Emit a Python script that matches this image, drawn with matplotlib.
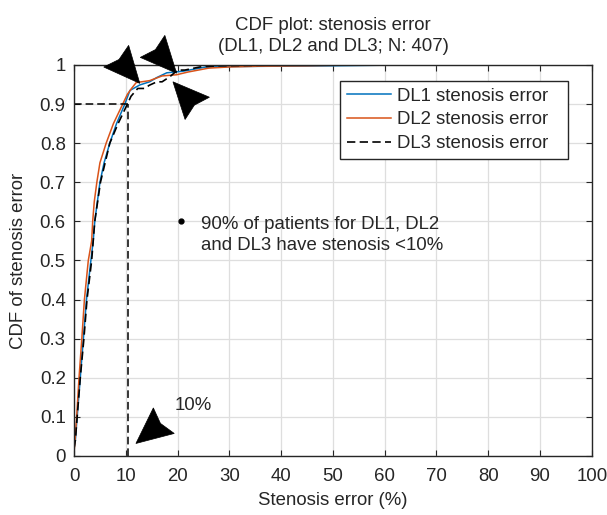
import numpy as np
import matplotlib
matplotlib.use("Agg")
import matplotlib.pyplot as plt
from matplotlib.patches import Polygon
from matplotlib.transforms import IdentityTransform

plt.rcParams['font.family'] = ['Liberation Sans', 'DejaVu Sans']
plt.rcParams['font.size'] = 13.4

# CDF curves (stenosis error %, cumulative fraction)
dl1_x = [0, 0.25, 0.6, 1.2, 1.8, 2.4, 3.25, 3.7, 4.0, 4.5, 5.0, 5.8, 6.9, 8.2, 9.8, 10.8,
         12.7, 14.6, 16.0, 17.9, 21.0, 25.5, 30.0, 40.0, 50.0, 63.0]
dl1_y = [0.02, 0.04, 0.1, 0.2, 0.3, 0.4, 0.5, 0.55, 0.6, 0.65, 0.7, 0.75, 0.8, 0.85, 0.9, 0.935,
         0.949, 0.957, 0.968, 0.98, 0.984, 0.995, 0.996, 0.997, 0.998, 1.0]

dl2_x = [0, 0.2, 0.5, 0.96, 1.5, 2.0, 2.75, 3.4, 3.6, 3.9, 4.4, 5.0, 6.2, 7.6, 9.4, 10.3,
         11.1, 12.0, 14.6, 17.0, 19.8, 22.0, 26.0, 30.0, 36.0, 45.0, 53.0]
dl2_y = [0.01, 0.04, 0.1, 0.2, 0.3, 0.4, 0.5, 0.55, 0.6, 0.65, 0.7, 0.75, 0.8, 0.85, 0.9, 0.925,
         0.94, 0.955, 0.96, 0.972, 0.975, 0.982, 0.992, 0.995, 0.997, 0.998, 1.0]

dl3_x = [0, 0.25, 0.6, 1.2, 1.9, 2.5, 3.4, 4.0, 5.1, 6.0, 6.9, 8.5, 10.3, 11.0, 12.3, 13.7,
         14.5, 16.0, 17.0, 18.5, 20.0, 21.4, 24.3, 28.0, 40.0]
dl3_y = [0.02, 0.04, 0.1, 0.2, 0.3, 0.4, 0.5, 0.6, 0.7, 0.75, 0.8, 0.85, 0.9, 0.92, 0.94, 0.94,
         0.948, 0.957, 0.957, 0.97, 0.987, 0.987, 0.995, 0.998, 1.0]

cut_x = 10.5
cut_y = 0.9
x_ticks = list(range(0, 101, 10))
y_ticks = [0, 0.1, 0.2, 0.3, 0.4, 0.5, 0.6, 0.7, 0.8, 0.9, 1]
y_tick_labels = ['0', '0.1', '0.2', '0.3', '0.4', '0.5', '0.6', '0.7', '0.8', '0.9', '1']

# annotation arrows: (tip, tail)
arrows = [((12.7, 0.953), (8.5, 1.017)),
          ((19.8, 0.979), (15.2, 1.047)),
          ((19.1, 0.957), (23.8, 0.889)),
          ((11.95, 0.032), (17.4, 0.091))]

blue = '#0072BD'
orange = '#D95319'
dark = '#262626'
dash = (0, (5, 2.6))

fig = plt.figure(figsize=(6.07, 5.15), dpi=100)
ax = fig.add_axes([0.122, 0.1146, 0.853, 0.7592])

ax.plot(dl1_x, dl1_y, color=blue, lw=1.1, label='DL1 stenosis error')
ax.plot(dl2_x, dl2_y, color=orange, lw=1.1, label='DL2 stenosis error')
ax.plot(dl3_x, dl3_y, color='black', lw=1.2, ls=dash, label='DL3 stenosis error')

# 90% / 10% guide lines
ax.plot([0, cut_x], [cut_y, cut_y], color='black', lw=1.1, ls=dash)
ax.plot([cut_x, cut_x], [0, cut_y], color='black', lw=1.1, ls=dash)

ax.set_xlim(0, 100)
ax.set_ylim(0, 1)
ax.set_xticks(x_ticks)
ax.set_yticks(y_ticks)
ax.set_yticklabels(y_tick_labels)
ax.grid(True, color='#dedede', lw=0.9)
ax.set_axisbelow(True)
ax.tick_params(direction='in', length=4, width=0.8, top=True, right=True, colors=dark,
               labelcolor=dark)
ax.tick_params(axis='x', pad=9)
ax.tick_params(axis='y', pad=6)
for s in ax.spines.values():
    s.set_color(dark)
    s.set_linewidth(1.0)

ax.set_xlabel('Stenosis error (%)', color=dark, labelpad=5)
ax.set_ylabel('CDF of stenosis error', color=dark, labelpad=9)
ax.set_title('CDF plot: stenosis error\n(DL1, DL2 and DL3; N: 407)', color=dark,
             fontsize=13.4, linespacing=1.35, pad=10)

leg = ax.legend(loc='upper left', bbox_to_anchor=(0.5145, 0.5, 0.4395, 0.459), mode='expand',
                borderaxespad=0, fancybox=False, edgecolor=dark, framealpha=1,
                handlelength=2.35, handletextpad=0.35, labelspacing=0.36, borderpad=0.35)
leg.get_frame().set_linewidth(1.0)
for t in leg.get_texts():
    t.set_color(dark)

ax.plot([20.7], [0.602], 'o', color='black', ms=3.5)
ax.text(24.6, 0.566, '90% of patients for DL1, DL2\nand DL3 have stenosis <10%',
        va='center', ha='left', color=dark, linespacing=1.3)
ax.text(19.5, 0.13, '10%', va='center', ha='left', color=dark)


def arrow_head(tip, tail, length=36, width=33, notch=0.12):
    # filled v-back head drawn in pixel space
    p_tip = ax.transData.transform(tip)
    p_tail = ax.transData.transform(tail)
    d = p_tip - p_tail
    d = d / np.hypot(*d)
    n = np.array([-d[1], d[0]])
    back = p_tip - d * length
    pts = [p_tip,
           back + n * width / 2,
           p_tip - d * length * (1 - notch),
           back - n * width / 2]
    fig.patches.append(Polygon(pts, closed=True, facecolor='black', edgecolor='black',
                               lw=0.5, transform=IdentityTransform(), figure=fig))


for tip, tail in arrows:
    arrow_head(tip, tail)

fig.savefig('out.png', dpi=100)
